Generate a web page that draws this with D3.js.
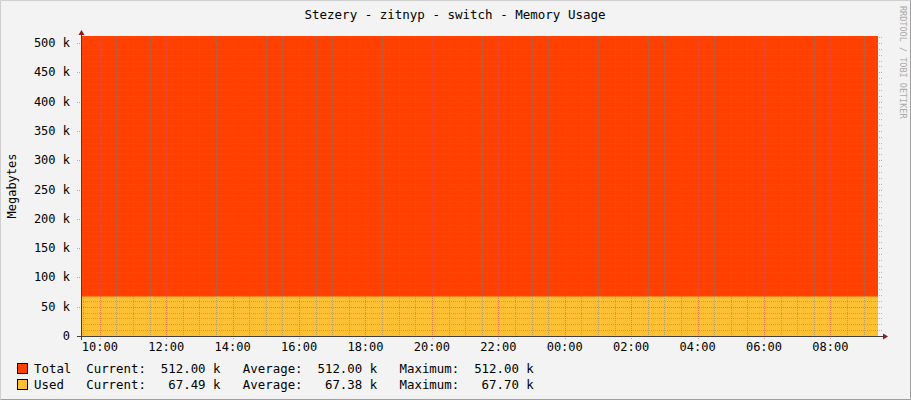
<!DOCTYPE html><html><head><meta charset="utf-8"><script src="https://cdn.jsdelivr.net/npm/d3@7"></script>
<style>body{margin:0}svg text{font-family:"DejaVu Sans Mono",monospace}</style></head><body><svg id="c" width="911" height="400"></svg>
<script>
const title="Stezery - zitnyp - switch - Memory Usage";
const seriesNames=["Total","Used"];
const seriesColors=["#ff4000","#ffc133"];
const totalValues=[512000,512000];
const usedValues=[67490,67490];
const legendRows=[["Total","512.00 k","512.00 k","512.00 k"],["Used","67.49 k","67.38 k","67.70 k"]];
const yTicks=[0,50000,100000,150000,200000,250000,300000,350000,400000,450000,500000];
const t0=new Date(2020,0,1,9,26), t1=new Date(2020,0,2,9,26);
const svg=d3.select("#c");
svg.append("rect").attr("width",911).attr("height",400).attr("fill","#f3f3f3");
svg.append("path").attr("d","M0.5,399.5V0.5H910.5").attr("stroke","#cfcfcf").attr("fill","none").attr("stroke-width",1);
svg.append("path").attr("d","M0.5,399.5H910.5V0.5").attr("stroke","#9e9e9e").attr("fill","none");
const x=d3.scaleTime().domain([t0,t1]).range([81,878]);
const y=d3.scaleLinear().domain([0,500000]).range([336,43]);
const dates=[t0,t1];
// areas
svg.append("path").datum(dates).attr("fill",seriesColors[0]).attr("d",d3.area().x(d=>x(d)).y0(y(0)).y1((d,i)=>y(totalValues[i])));
svg.append("path").datum(dates).attr("fill",seriesColors[1]).attr("d",d3.area().x(d=>x(d)).y0(y(0)).y1((d,i)=>y(usedValues[i])));
const g=svg.append("g");
// minor horizontal
d3.range(0,520000,10000).forEach(v=>{if(v%50000)g.append("line").attr("x1",81).attr("x2",882).attr("y1",Math.round(y(v))+.5).attr("y2",Math.round(y(v))+.5).attr("stroke","#808080").attr("stroke-opacity",.5).attr("stroke-dasharray","1,1");});
d3.timeMinute.every(30).range(t0,t1).forEach(d=>{if(d.getMinutes()||d.getHours()%2)g.append("line").attr("x1",Math.round(x(d))+.5).attr("x2",Math.round(x(d))+.5).attr("y1",36).attr("y2",336).attr("stroke","#808080").attr("stroke-opacity",.5).attr("stroke-dasharray","1,1");});
yTicks.forEach(v=>{if(v)g.append("line").attr("x1",77).attr("x2",882).attr("y1",Math.round(y(v))+.5).attr("y2",Math.round(y(v))+.5).attr("stroke","#e05050").attr("stroke-opacity",.6).attr("stroke-dasharray","1,1");
 svg.append("text").attr("x",70).attr("y",y(v)+4).attr("text-anchor","end").attr("font-size",12).attr("fill","#000").text(v?(v/1000)+" k":"0");});
const xt=d3.timeHour.every(2).range(t0,t1);
xt.forEach(d=>{g.append("line").attr("x1",Math.round(x(d))+.5).attr("x2",Math.round(x(d))+.5).attr("y1",36).attr("y2",340).attr("stroke","#e05050").attr("stroke-opacity",.6).attr("stroke-dasharray","1,1");
 svg.append("text").attr("x",x(d)).attr("y",351).attr("text-anchor","middle").attr("font-size",12).text(d3.timeFormat("%H:%M")(d));});
// axes
svg.append("line").attr("x1",81.5).attr("x2",81.5).attr("y1",34).attr("y2",340).attr("stroke","#404040");
svg.append("line").attr("x1",77).attr("x2",883).attr("y1",336.5).attr("y2",336.5).attr("stroke","#404040");
svg.append("path").attr("d","M78.5,35L81.5,30L84.5,35Z").attr("fill","#8b1a1a");
svg.append("path").attr("d","M883,333.5L888,336.5L883,339.5Z").attr("fill","#8b1a1a");
svg.append("text").attr("x",455).attr("y",19).attr("text-anchor","middle").attr("font-size",12.5).text(title);
svg.append("text").attr("transform","translate(16,186) rotate(-90)").attr("text-anchor","middle").attr("font-size",12).text("Megabytes");
svg.append("text").attr("transform","translate(900,6) rotate(90)").attr("font-size",8.5).attr("fill","#aaa").text("RRDTOOL / TOBI OETIKER");
legendRows.forEach((r,i)=>{const yy=373+i*16;
 svg.append("rect").attr("x",17.5).attr("y",yy-9.5).attr("width",10).attr("height",10).attr("fill",seriesColors[i]).attr("stroke","#000");
 const t=svg.append("text").attr("x",34).attr("y",yy).attr("font-size",12.4).attr("xml:space","preserve");
 t.text((r[0]+"     ").slice(0,5)+"  Current:"+r[1].padStart(10)+"   Average:"+r[2].padStart(10)+"   Maximum:"+r[3].padStart(10));
});
</script></body></html>
